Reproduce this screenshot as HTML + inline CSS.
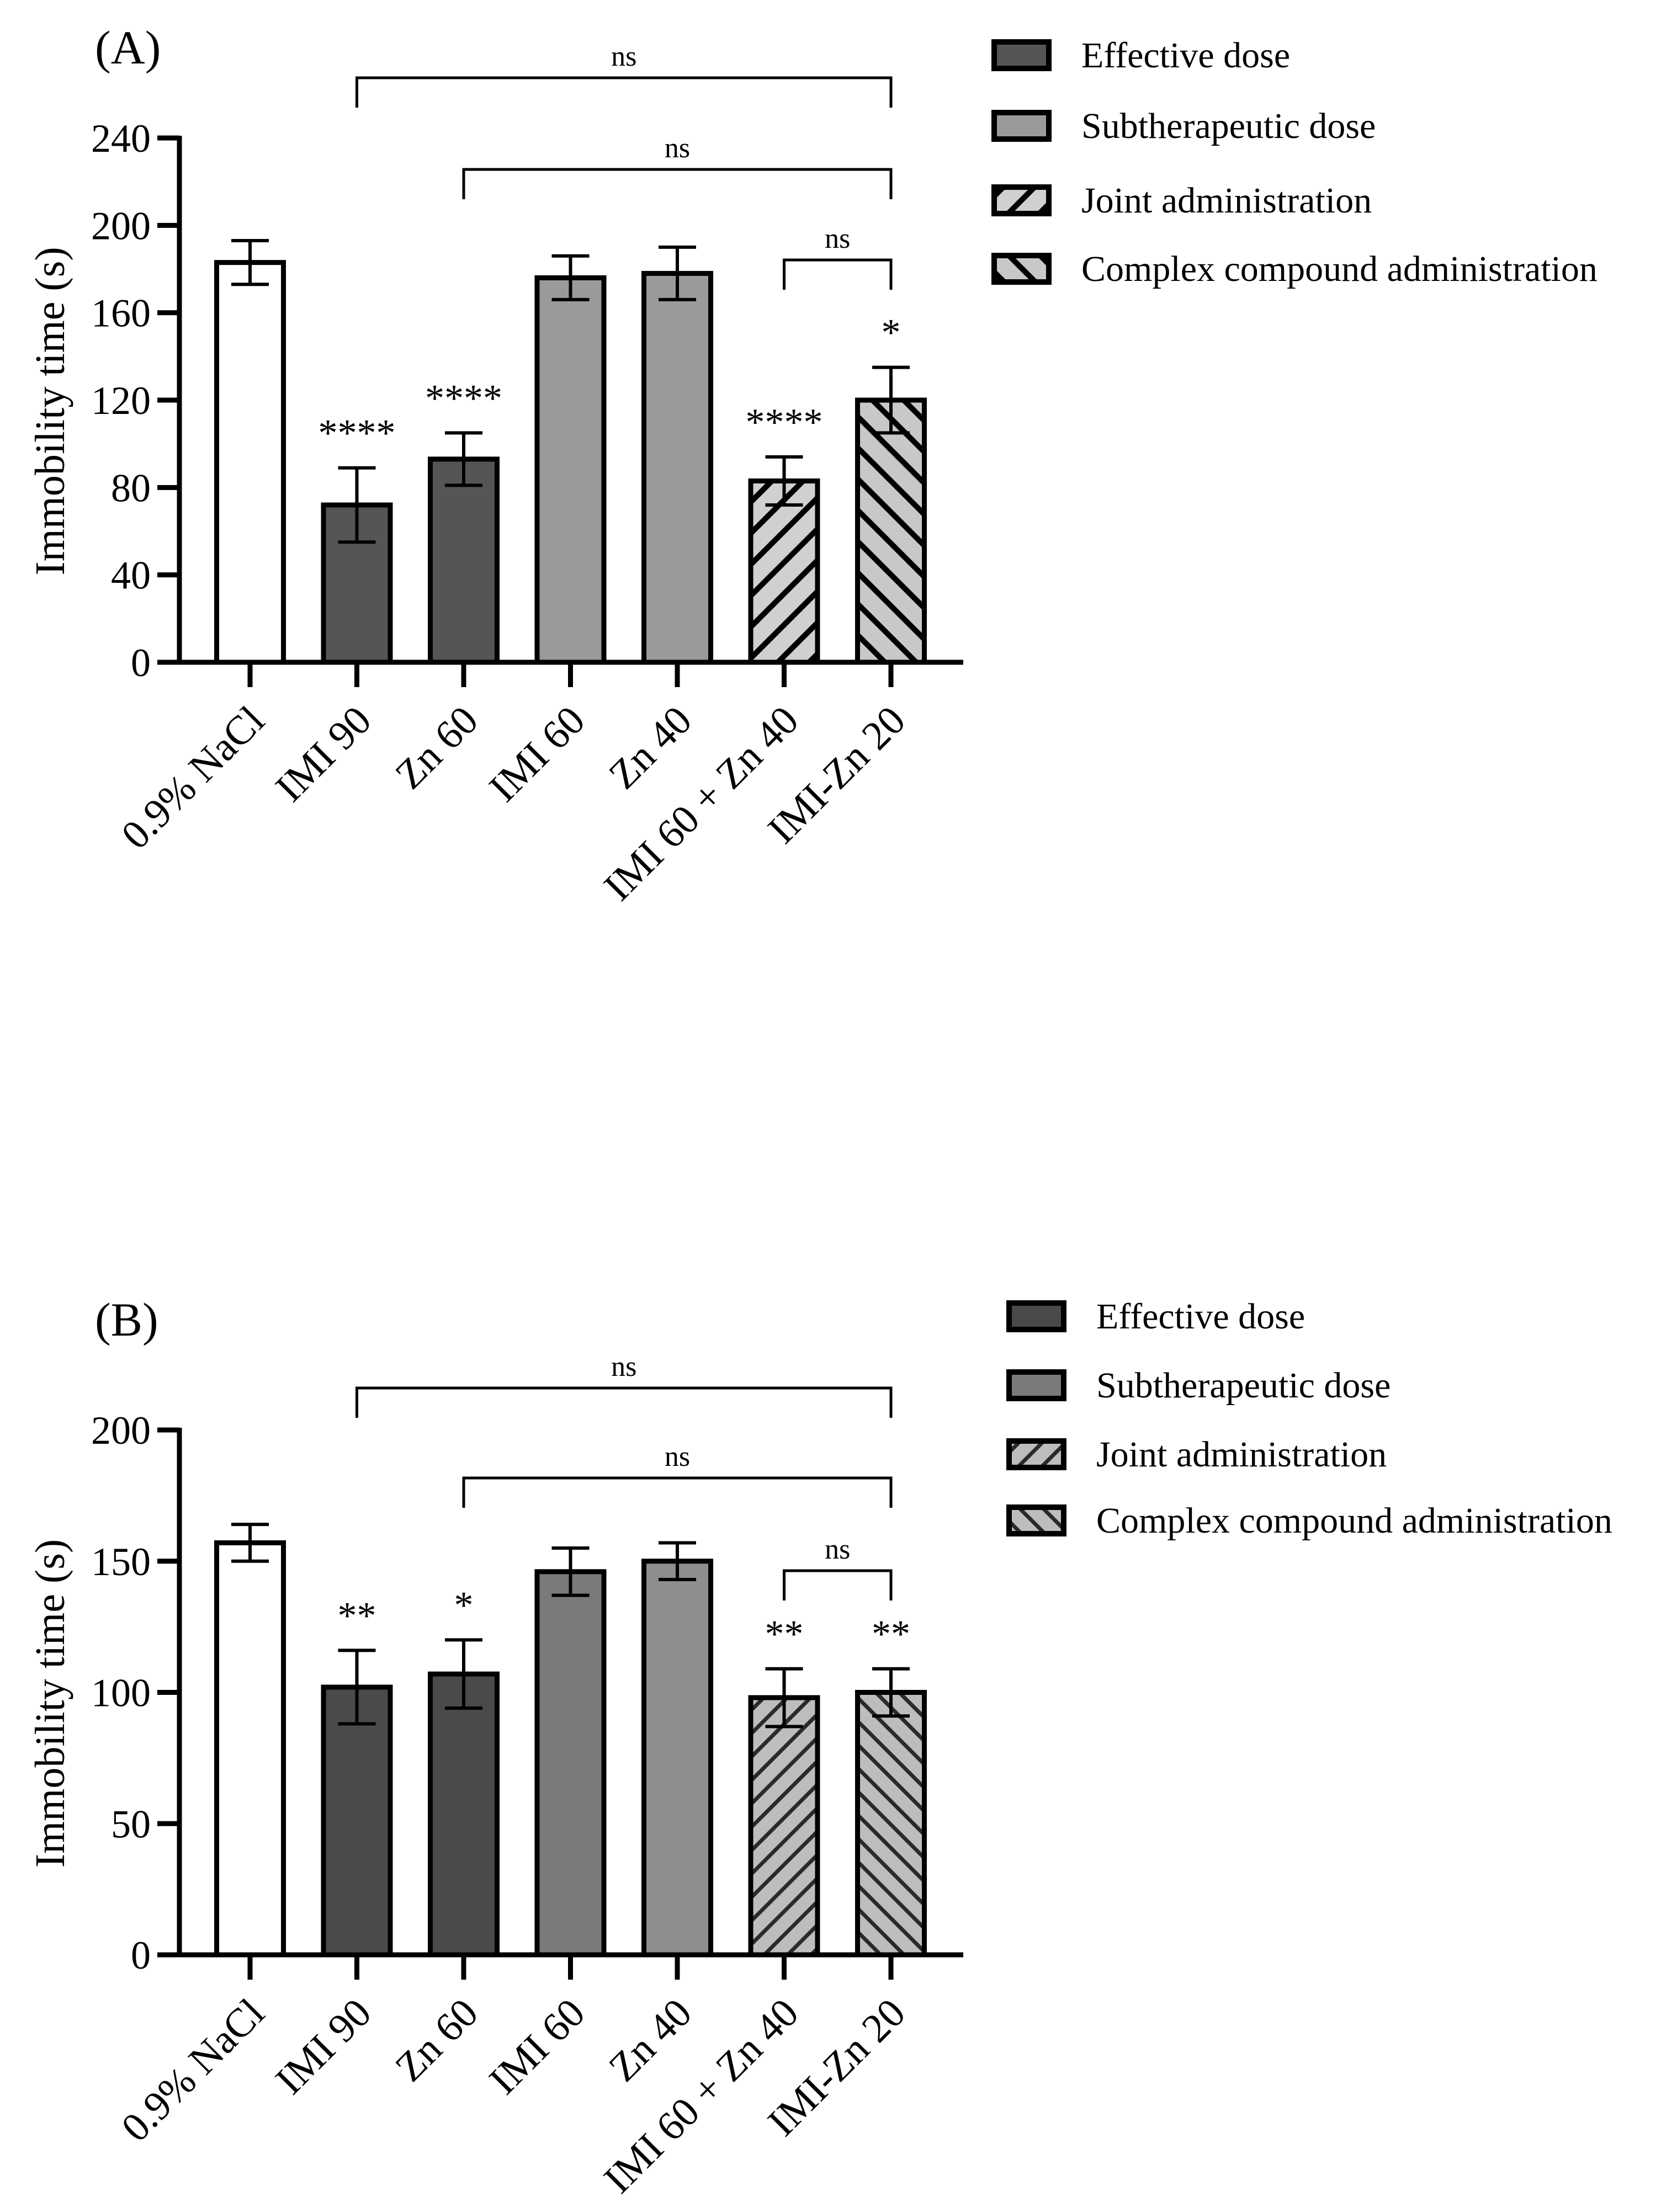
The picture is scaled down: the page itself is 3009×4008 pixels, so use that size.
<!DOCTYPE html>
<html><head><meta charset="utf-8">
<style>
html,body{margin:0;padding:0;background:#fff;}
svg{display:block;font-family:"Liberation Serif",serif;}
</style></head>
<body>
<svg id="fig" width="3009" height="4008" viewBox="0 0 3009 4008" xmlns="http://www.w3.org/2000/svg">
<defs>
<pattern id="hatchFwdA" patternUnits="userSpaceOnUse" width="40" height="40" patternTransform="rotate(45)"><rect width="40" height="40" fill="#d0d0d0"/><rect x="0" y="0" width="10" height="40" fill="#000"/></pattern>
<pattern id="hatchBackA" patternUnits="userSpaceOnUse" width="40" height="40" patternTransform="rotate(-45)"><rect width="40" height="40" fill="#c8c8c8"/><rect x="0" y="0" width="10" height="40" fill="#000"/></pattern>
<pattern id="hatchFwdB" patternUnits="userSpaceOnUse" width="30" height="30" patternTransform="rotate(45)"><rect width="30" height="30" fill="#bdbdbd"/><rect x="0" y="0" width="7" height="30" fill="#2a2a2a"/></pattern>
<pattern id="hatchBackB" patternUnits="userSpaceOnUse" width="30" height="30" patternTransform="rotate(-45)"><rect width="30" height="30" fill="#bdbdbd"/><rect x="0" y="0" width="7" height="30" fill="#2a2a2a"/></pattern>
</defs>
</svg>
<script>
const categories = ["0.9% NaCl","IMI 90","Zn 60","IMI 60","Zn 40","IMI 60 + Zn 40","IMI-Zn 20"];
const valuesA = [183,72,93,176,178,83,120];
const errA = [10,17,12,10,12,11,15];
const starsA = ["","****","****","","","****","*"];
const ticksA = [0,40,80,120,160,200,240];
const valuesB = [157,102,107,146,150,98,100];
const errB = [7,14,13,9,7,11,9];
const starsB = ["","**","*","","","**","**"];
const ticksB = [0,50,100,150,200];
const legendLabels = ["Effective dose","Subtherapeutic dose","Joint administration","Complex compound administration"];

const NS = "http://www.w3.org/2000/svg";
const svg = document.getElementById("fig");
function mk(tag, attrs, parent){
  const e = document.createElementNS(NS, tag);
  for (const k in attrs) e.setAttribute(k, attrs[k]);
  (parent||svg).appendChild(e);
  return e;
}

function panel(cfg){
  const g = mk("g", {});
  
  
  const x0 = 325, y0 = cfg.y0, yTop = cfg.yTop, vmax = cfg.ticks[cfg.ticks.length-1];
  const yS = v => y0 - (v/vmax)*(y0-yTop);
  const xS = i => 453 + i*193.5;
  const bw = 121;
  cfg.values.forEach((v,i)=>{
    const r = mk("rect",{x:xS(i)-bw/2, y:yS(v), width:bw, height:y0-yS(v), fill:cfg.fills[i], stroke:"#000","stroke-width":9}, g);
    
    
    const e = cfg.errs[i];
    const eg = mk("g",{stroke:"#000","stroke-width":6}, g);
    
    
    mk("line",{x1:xS(i),x2:xS(i),y1:yS(v+e),y2:yS(v-e)}, eg);
    mk("line",{x1:xS(i)-34,x2:xS(i)+34,y1:yS(v+e),y2:yS(v+e)}, eg);
    mk("line",{x1:xS(i)-34,x2:xS(i)+34,y1:yS(v-e),y2:yS(v-e)}, eg);
    if (cfg.stars[i]) {
      const t = mk("text",{x:xS(i), y:yS(v+e)-40, "text-anchor":"middle","font-size":70}, g);
      t.textContent = cfg.stars[i];
      
      
    }
    mk("line",{x1:xS(i),x2:xS(i),y1:y0,y2:y0+45,stroke:"#000","stroke-width":9}, g);
    const lx = xS(i)+30, ly = y0+110;
    const lt = mk("text",{x:lx,y:ly,"text-anchor":"end","font-size":74,transform:`rotate(-45 ${lx} ${ly})`}, g);
    lt.textContent = categories[i];
    
    
  });
  const ax = mk("path",{d:`M${x0} ${yTop-4} V${y0} M${x0-40} ${y0} H1745`, stroke:"#000","stroke-width":9, fill:"none"}, g);
  
  
  cfg.ticks.forEach(t=>{
    mk("line",{x1:x0-40,x2:x0,y1:yS(t),y2:yS(t),stroke:"#000","stroke-width":9}, g);
    const tt = mk("text",{x:x0-52,y:yS(t)+25,"text-anchor":"end","font-size":72}, g);
    tt.textContent = t;
    
    
  });
  const yt = mk("text",{x:0,y:0,"text-anchor":"middle","font-size":76,transform:`translate(116 ${(y0+yTop)/2+20}) rotate(-90)`}, g);
  yt.textContent = "Immobility time (s)";
  
  
  const pl = mk("text",{x:172,y:cfg.labelY,"font-size":86}, g);
  pl.textContent = cfg.label;
  
  
  cfg.brackets.forEach((b,k)=>{
    const bg = mk("g",{}, g);
    
    
    mk("path",{d:`M${xS(b[0])} ${b[2]+54} V${b[2]} H${xS(b[1])} V${b[2]+54}`,stroke:"#000","stroke-width":5,fill:"none"}, bg);
    const t = mk("text",{x:(xS(b[0])+xS(b[1]))/2,y:b[2]-22,"text-anchor":"middle","font-size":52}, bg);
    t.textContent = "ns";
  });
  cfg.legendY.forEach((ly,k)=>{
    const lg = mk("g",{}, g);
    
    
    mk("rect",{x:cfg.legendX+5,y:ly-24,width:99,height:48,fill:cfg.legendFills[k],stroke:"#000","stroke-width":10}, lg);
    const t = mk("text",{x:cfg.legendX+163,y:ly+22,"font-size":66}, lg);
    t.textContent = legendLabels[k];
  });
}

panel({name:"panel-a", y0:1200, yTop:250, ticks:ticksA, values:valuesA, errs:errA, stars:starsA,
  fills:["#ffffff","#555555","#555555","#9a9a9a","#9a9a9a","url(#hatchFwdA)","url(#hatchBackA)"],
  brackets:[[1,6,141],[2,6,307],[5,6,471]], label:"(A)", labelY:115,
  legendX:1796, legendY:[100,228,363,487],
  legendFills:["#555555","#9a9a9a","url(#hatchFwdA)","url(#hatchBackA)"]});

panel({name:"panel-b", y0:3542, yTop:2591, ticks:ticksB, values:valuesB, errs:errB, stars:starsB,
  fills:["#ffffff","#4a4a4a","#4a4a4a","#7a7a7a","#8e8e8e","url(#hatchFwdB)","url(#hatchBackB)"],
  brackets:[[1,6,2515],[2,6,2678],[5,6,2846]], label:"(B)", labelY:2420,
  legendX:1823, legendY:[2385,2510,2635,2755],
  legendFills:["#4a4a4a","#7a7a7a","url(#hatchFwdB)","url(#hatchBackB)"]});
</script>
</body></html>
